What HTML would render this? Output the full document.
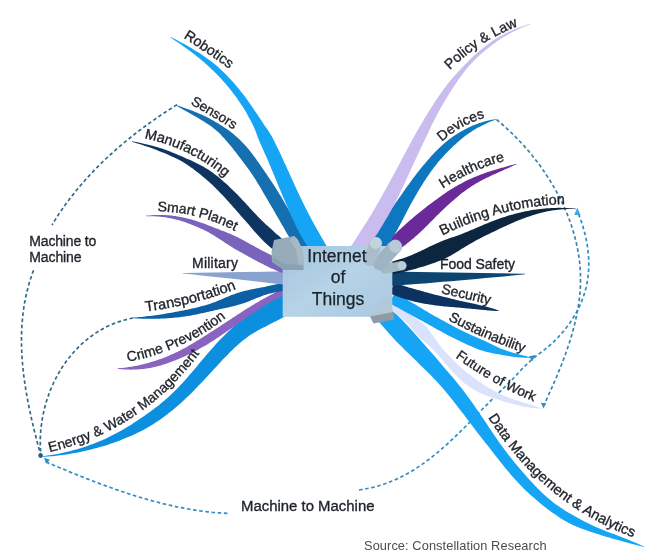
<!DOCTYPE html>
<html><head><meta charset="utf-8">
<style>
html,body{margin:0;padding:0;background:#fff;}
body{width:653px;height:558px;overflow:hidden;font-family:"Liberation Sans",sans-serif;}
svg{display:block;}
text{font-family:"Liberation Sans",sans-serif;}
.lb{font-size:14px;fill:#1f232b;stroke:#1f232b;stroke-width:0.35;}
.dash{fill:none;stroke:#2f8fc4;stroke-width:1.7;stroke-dasharray:3.6 2.6;}
.dasha{fill:none;stroke:#3a84ad;stroke-width:1.7;stroke-dasharray:3.6 2.6;}
.dashd{fill:none;stroke:#336a87;stroke-width:1.7;stroke-dasharray:3.6 2.6;}
</style></head>
<body>
<svg width="653" height="558" viewBox="0 0 653 558">
<defs>
<linearGradient id="boxg" x1="0" y1="0" x2="1" y2="1">
<stop offset="0" stop-color="#a3c3db"/><stop offset="0.5" stop-color="#b6d3e7"/><stop offset="1" stop-color="#a9c8df"/>
</linearGradient>
<filter id="soft" x="-5%" y="-5%" width="110%" height="110%"><feGaussianBlur stdDeviation="0.7"/></filter>
<path id="lp_robotics" d="M178.1,34.6 L183.2,37.8 Q206.7,52.7 229.4,68.8 L239.2,75.7"/>
<path id="lp_sensors" d="M185.1,101.0 L190.3,104.0 Q211.9,116.2 233.5,129.5 L243.7,135.8"/>
<path id="lp_manuf" d="M138.4,137.1 L144.3,138.3 Q188.4,147.0 225.2,177.3 L234.5,184.9"/>
<path id="lp_smart" d="M151.4,211.3 L157.4,211.4 Q198.2,211.8 234.9,231.0 L245.5,236.6"/>
<path id="lp_transp" d="M139.8,312.2 L145.8,311.5 Q191.7,305.8 236.5,288.9 L247.7,284.7"/>
<path id="lp_crime" d="M121.8,362.9 L127.7,361.8 Q182.1,351.8 226.1,317.9 L235.6,310.6"/>
<path id="lp_energy" d="M43.7,453.3 L49.5,452.0 Q141.9,430.8 199.5,353.6 L206.7,344.0"/>
<path id="lp_policy" d="M445.5,74.2 L449.8,70.0 Q479.1,41.1 517.9,26.2 L529.1,21.9"/>
<path id="lp_devices" d="M437.4,145.8 L441.9,141.8 Q460.8,124.8 485.0,117.7 L496.5,114.3"/>
<path id="lp_health" d="M437.8,191.8 L442.8,188.5 Q471.8,169.3 504.8,160.9 L516.4,157.9"/>
<path id="lp_building" d="M437.0,238.2 L442.4,235.5 Q500.1,206.5 565.0,203.9 L577.0,203.4"/>
<path id="lp_security" d="M434.9,291.6 L440.7,293.0 Q465.3,299.0 489.9,304.5 L501.6,307.1"/>
<path id="lp_sustain" d="M442.6,317.1 L447.9,319.9 Q484.5,339.4 523.5,352.5 L534.9,356.3"/>
<path id="lp_future" d="M450.4,353.6 L455.2,357.1 Q493.0,384.7 533.5,401.5 L544.6,406.1"/>
<path id="lp_data" d="M484.8,412.3 L488.0,417.4 Q541.8,503.1 633.2,537.3 L644.4,541.5"/>
</defs>
<rect width="653" height="558" fill="#fff"/>
<g filter="url(#soft)">
<!-- dashed connectors -->
<path class="dashd" d="M177.0,104.7 L175.1,105.9 L173.3,107.0 L171.5,108.2 L169.6,109.4 L167.8,110.6 L166.0,111.8 L164.1,113.0 L162.3,114.2 L160.5,115.4 L158.7,116.7 L156.9,117.9 L155.1,119.1 L153.3,120.4 L151.5,121.7 L149.7,122.9 L147.9,124.2 L146.2,125.5 L144.4,126.8 L142.6,128.1 L140.9,129.4 L139.1,130.7 L137.4,132.1 L135.6,133.4 L133.9,134.7 L132.2,136.1 L130.5,137.5 L128.8,138.8 L127.1,140.2 L125.4,141.6 L123.7,143.0 L122.0,144.4 L120.3,145.8 L118.7,147.3 L117.0,148.7 L115.4,150.1 L113.7,151.6 L112.1,153.1 L110.5,154.5 L108.9,156.0 L107.3,157.5 L105.7,159.0 L104.1,160.5 L102.5,162.0 L100.9,163.5 L99.4,165.1 L97.8,166.6 L96.3,168.2 L94.8,169.7 L93.3,171.3 L91.8,172.9 L90.3,174.5 L88.8,176.1 L87.3,177.7 L85.8,179.3 L84.4,181.0 L82.9,182.6 L81.5,184.3 L80.1,185.9 L78.7,187.6 L77.3,189.3 L75.9,191.0 L74.5,192.7 L73.2,194.4 L71.8,196.1 L70.5,197.8 L69.2,199.6 L67.8,201.3 L66.5,203.1 L65.3,204.8 L64.0,206.6 L62.7,208.4 L61.5,210.2 L60.2,212.0 L59.0,213.8 L57.8,215.7 L56.6,217.5 L55.5,219.4 L54.3,221.2 L53.1,223.1 L52.0,225.0"/>
<path class="dashd" d="M33.6,270.3 L32.7,272.5 L31.9,274.8 L31.2,277.0 L30.4,279.3 L29.7,281.6 L29.0,283.8 L28.4,286.1 L27.8,288.4 L27.2,290.7 L26.6,293.0 L26.1,295.3 L25.6,297.6 L25.2,299.9 L24.7,302.2 L24.3,304.5 L23.9,306.8 L23.6,309.1 L23.3,311.5 L23.0,313.8 L22.7,316.1 L22.5,318.5 L22.3,320.8 L22.1,323.2 L21.9,325.5 L21.8,327.8 L21.7,330.2 L21.6,332.5 L21.5,334.9 L21.5,337.3 L21.5,339.6 L21.5,342.0 L21.5,344.3 L21.6,346.7 L21.6,349.1 L21.7,351.4 L21.8,353.8 L22.0,356.2 L22.1,358.5 L22.3,360.9 L22.5,363.3 L22.7,365.6 L22.9,368.0 L23.2,370.4 L23.4,372.7 L23.7,375.1 L24.0,377.4 L24.3,379.8 L24.7,382.2 L25.0,384.5 L25.4,386.9 L25.7,389.2 L26.1,391.6 L26.5,393.9 L26.9,396.3 L27.4,398.6 L27.8,401.0 L28.2,403.3 L28.7,405.7 L29.2,408.0 L29.7,410.3 L30.2,412.7 L30.7,415.0 L31.2,417.3 L31.7,419.6 L32.2,421.9 L32.8,424.2 L33.3,426.5 L33.9,428.8 L34.4,431.1 L35.0,433.4 L35.6,435.7 L36.2,438.0 L36.8,440.3 L37.3,442.5 L37.9,444.8 L38.5,447.0 L39.2,449.3 L39.8,451.5 L40.4,453.8 L41.0,456.0"/>
<path class="dashd" d="M133.0,318.0 L130.7,318.5 L128.3,319.0 L126.1,319.6 L123.8,320.2 L121.6,320.9 L119.3,321.6 L117.2,322.3 L115.0,323.1 L112.9,324.0 L110.8,324.9 L108.7,325.8 L106.6,326.8 L104.6,327.8 L102.6,328.9 L100.7,330.0 L98.7,331.2 L96.8,332.4 L94.9,333.6 L93.1,334.9 L91.3,336.2 L89.5,337.5 L87.7,338.9 L86.0,340.3 L84.3,341.8 L82.6,343.2 L80.9,344.7 L79.3,346.3 L77.7,347.9 L76.2,349.5 L74.7,351.1 L73.2,352.8 L71.7,354.5 L70.3,356.2 L68.9,358.0 L67.5,359.8 L66.1,361.6 L64.8,363.4 L63.6,365.3 L62.3,367.1 L61.1,369.0 L59.9,371.0 L58.8,372.9 L57.7,374.9 L56.6,376.9 L55.5,378.9 L54.5,380.9 L53.5,383.0 L52.6,385.0 L51.7,387.1 L50.8,389.2 L49.9,391.3 L49.1,393.4 L48.4,395.6 L47.6,397.7 L46.9,399.9 L46.2,402.1 L45.6,404.3 L45.0,406.5 L44.4,408.7 L43.9,410.9 L43.4,413.1 L42.9,415.3 L42.5,417.6 L42.1,419.8 L41.8,422.1 L41.5,424.3 L41.2,426.6 L40.9,428.9 L40.7,431.1 L40.6,433.4 L40.4,435.7 L40.3,437.9 L40.3,440.2 L40.3,442.5 L40.3,444.7 L40.4,447.0 L40.5,449.3 L40.6,451.5 L40.8,453.8 L41.0,456.0"/>
<path class="dash" d="M46.0,462.0 L48.2,462.9 L50.4,463.8 L52.6,464.8 L54.8,465.7 L57.0,466.6 L59.2,467.5 L61.4,468.4 L63.6,469.3 L65.8,470.2 L68.0,471.2 L70.2,472.1 L72.4,473.0 L74.7,473.9 L76.9,474.7 L79.1,475.6 L81.3,476.5 L83.5,477.4 L85.8,478.3 L88.0,479.1 L90.2,480.0 L92.5,480.9 L94.7,481.7 L96.9,482.6 L99.2,483.4 L101.4,484.3 L103.7,485.1 L105.9,485.9 L108.2,486.7 L110.4,487.5 L112.7,488.3 L114.9,489.1 L117.2,489.9 L119.4,490.7 L121.7,491.5 L124.0,492.2 L126.2,493.0 L128.5,493.7 L130.8,494.5 L133.0,495.2 L135.3,495.9 L137.6,496.6 L139.9,497.3 L142.2,498.0 L144.5,498.6 L146.8,499.3 L149.1,500.0 L151.4,500.6 L153.7,501.2 L156.0,501.8 L158.3,502.4 L160.6,503.0 L162.9,503.6 L165.2,504.2 L167.5,504.7 L169.8,505.2 L172.2,505.8 L174.5,506.3 L176.8,506.8 L179.2,507.2 L181.5,507.7 L183.9,508.2 L186.2,508.6 L188.5,509.0 L190.9,509.4 L193.3,509.8 L195.6,510.2 L198.0,510.5 L200.3,510.9 L202.7,511.2 L205.1,511.5 L207.5,511.8 L209.8,512.0 L212.2,512.3 L214.6,512.5 L217.0,512.7 L219.4,512.9 L221.8,513.1 L224.2,513.2 L226.6,513.4 L229.0,513.5"/>
<path class="dash" d="M359.0,490.0 L364.1,489.2 L369.1,488.2 L374.0,487.1 L378.8,485.8 L383.5,484.3 L388.1,482.6 L392.6,480.8 L397.1,478.9 L401.4,476.8 L405.7,474.5 L409.9,472.2 L414.0,469.7 L418.0,467.1 L422.0,464.4 L425.9,461.6 L429.8,458.7 L433.6,455.7 L437.4,452.6 L441.1,449.5 L444.7,446.3 L448.4,443.0 L451.9,439.7 L455.5,436.3 L459.0,432.9 L462.5,429.4 L466.0,426.0 L469.5,422.5 L472.9,419.0 L476.4,415.4 L479.8,411.9 L483.2,408.4 L486.7,404.9 L490.1,401.4 L493.5,398.0 L497.0,394.5 L500.5,391.1 L503.9,387.8 L507.4,384.4 L510.8,381.0 L514.2,377.5 L517.5,373.9 L520.8,370.3 L524.1,366.8 L527.6,363.4 L531.1,360.1 L534.9,357.0 L538.7,354.1 L542.6,351.2 L546.4,348.2 L550.2,345.0 L553.8,341.7 L557.2,338.2 L560.6,334.7 L563.8,330.9 L566.8,327.1 L569.7,323.2 L572.4,319.1 L575.0,314.9 L577.3,310.7 L579.5,306.3 L581.4,301.8 L583.2,297.3 L584.7,292.7 L586.0,288.0 L587.0,283.3 L587.8,278.5 L588.4,273.7 L588.7,268.8 L588.8,263.9 L588.7,258.9 L588.3,254.0 L587.8,249.1 L587.1,244.2 L586.2,239.3 L585.1,234.5 L583.8,229.7 L582.5,225.0 L580.9,220.4 L579.3,215.9 L577.5,211.5"/>
<path class="dasha" d="M496.5,119.5 L499.5,122.0 L502.4,124.5 L505.4,127.1 L508.2,129.8 L511.1,132.5 L513.9,135.3 L516.7,138.1 L519.5,141.0 L522.2,143.9 L524.9,146.9 L527.5,149.9 L530.1,152.9 L532.6,156.1 L535.1,159.2 L537.6,162.4 L540.0,165.6 L542.3,168.9 L544.6,172.2 L546.8,175.6 L549.0,179.0 L551.1,182.4 L553.2,185.9 L555.2,189.3 L557.1,192.9 L559.0,196.4 L560.8,200.0 L562.6,203.6 L564.2,207.2 L565.8,210.9 L567.4,214.6 L568.8,218.3 L570.2,222.0 L571.5,225.8 L572.7,229.6 L573.8,233.4 L574.9,237.2 L575.8,241.0 L576.7,244.8 L577.5,248.7 L578.2,252.6 L578.8,256.4 L579.4,260.3 L579.8,264.2 L580.1,268.1 L580.4,272.1 L580.5,276.0 L580.5,279.9 L580.5,283.8 L580.3,287.7 L580.1,291.7 L579.7,295.6 L579.3,299.5 L578.7,303.5 L578.1,307.4 L577.4,311.3 L576.7,315.2 L575.8,319.1 L574.9,323.0 L574.0,326.9 L572.9,330.8 L571.8,334.7 L570.7,338.5 L569.5,342.4 L568.2,346.2 L566.9,350.0 L565.6,353.8 L564.2,357.6 L562.8,361.4 L561.3,365.2 L559.8,368.9 L558.3,372.6 L556.8,376.3 L555.2,380.0 L553.6,383.6 L552.0,387.3 L550.4,390.9 L548.8,394.4 L547.2,398.0 L545.6,401.5 L544.0,405.0"/>
<path d="M286.3,293.9 L283.0,295.1 L279.6,296.3 L276.3,297.6 L273.1,299.0 L269.9,300.5 L266.7,302.1 L263.6,303.7 L260.5,305.5 L257.5,307.3 L254.6,309.3 L251.8,311.4 L249.0,313.5 L246.2,315.7 L243.5,317.9 L240.9,320.2 L238.3,322.5 L235.6,324.8 L233.0,327.1 L230.5,329.5 L228.0,331.8 L225.5,334.2 L223.1,336.7 L220.7,339.1 L218.3,341.6 L216.0,344.1 L213.7,346.7 L211.4,349.2 L209.2,351.7 L207.0,354.3 L204.8,356.9 L202.6,359.5 L200.5,362.0 L198.3,364.6 L196.2,367.2 L194.0,369.7 L191.9,372.3 L189.7,374.8 L187.6,377.3 L185.4,379.8 L183.2,382.2 L181.0,384.6 L178.8,387.0 L176.5,389.3 L174.2,391.6 L171.9,393.8 L169.5,396.0 L167.1,398.2 L164.7,400.3 L162.2,402.3 L159.7,404.4 L157.2,406.4 L154.7,408.3 L152.1,410.3 L149.5,412.2 L146.8,414.0 L144.2,415.9 L141.5,417.7 L138.9,419.5 L136.2,421.3 L133.5,423.1 L130.8,424.9 L128.0,426.6 L125.2,428.3 L122.4,430.0 L119.6,431.5 L116.7,433.1 L113.8,434.6 L110.9,436.1 L107.9,437.5 L105.0,438.9 L102.0,440.2 L99.0,441.5 L95.9,442.8 L92.8,444.0 L89.7,445.1 L86.6,446.2 L83.5,447.2 L80.3,448.2 L77.1,449.2 L73.9,450.1 L70.7,450.9 L67.5,451.8 L64.2,452.5 L60.9,453.2 L57.6,453.9 L54.3,454.5 L51.0,455.0 L47.7,455.5 L44.3,456.0 L41.0,456.4 L41.0,456.8 L44.4,456.7 L47.8,456.4 L51.2,456.2 L54.5,455.9 L57.9,455.5 L61.2,455.1 L64.6,454.7 L67.9,454.2 L71.3,453.6 L74.6,453.1 L77.9,452.4 L81.2,451.8 L84.5,451.1 L87.8,450.3 L91.1,449.5 L94.3,448.6 L97.6,447.8 L100.8,446.8 L104.1,445.9 L107.3,444.9 L110.5,443.8 L113.7,442.7 L116.9,441.6 L120.0,440.4 L123.2,439.1 L126.3,437.8 L129.4,436.5 L132.5,435.2 L135.6,433.7 L138.7,432.3 L141.7,430.8 L144.7,429.2 L147.7,427.5 L150.6,425.8 L153.5,424.0 L156.4,422.1 L159.2,420.2 L162.0,418.3 L164.7,416.2 L167.4,414.2 L170.1,412.1 L172.8,409.9 L175.4,407.7 L178.0,405.5 L180.6,403.3 L183.1,401.0 L185.6,398.6 L188.1,396.3 L190.5,393.9 L193.0,391.5 L195.3,389.0 L197.7,386.6 L200.1,384.1 L202.4,381.7 L204.7,379.2 L207.0,376.7 L209.3,374.2 L211.6,371.8 L213.8,369.3 L216.1,366.9 L218.3,364.4 L220.6,362.0 L222.8,359.6 L225.1,357.3 L227.4,354.9 L229.7,352.6 L232.0,350.3 L234.3,348.1 L236.6,346.0 L239.0,343.8 L241.4,341.8 L243.8,339.8 L246.3,337.9 L248.8,336.0 L251.5,334.3 L254.1,332.7 L256.9,331.1 L259.6,329.6 L262.4,328.1 L265.2,326.7 L268.0,325.2 L270.8,323.8 L273.6,322.3 L276.4,320.9 L279.2,319.4 L282.1,317.9 L284.9,316.4 L287.8,315.0 L290.7,313.5 L293.7,312.1Z" fill="#108fe0"/>
<path d="M286.7,286.9 L284.8,287.8 L282.8,288.7 L280.9,289.6 L279.0,290.5 L277.1,291.5 L275.2,292.4 L273.4,293.4 L271.5,294.4 L269.6,295.4 L267.8,296.4 L265.9,297.5 L264.1,298.5 L262.2,299.5 L260.4,300.6 L258.5,301.7 L256.7,302.8 L254.8,303.8 L253.0,304.9 L251.2,306.0 L249.4,307.2 L247.5,308.3 L245.7,309.4 L243.9,310.6 L242.1,311.7 L240.3,312.9 L238.5,314.0 L236.7,315.2 L234.9,316.4 L233.1,317.5 L231.4,318.7 L229.6,319.9 L227.8,321.1 L226.0,322.2 L224.2,323.4 L222.4,324.6 L220.7,325.7 L218.9,326.9 L217.1,328.0 L215.3,329.2 L213.5,330.4 L211.7,331.5 L210.0,332.6 L208.2,333.8 L206.4,334.9 L204.6,336.0 L202.9,337.2 L201.1,338.3 L199.3,339.4 L197.5,340.5 L195.8,341.6 L194.0,342.7 L192.2,343.7 L190.4,344.8 L188.6,345.8 L186.8,346.9 L185.0,347.9 L183.2,348.8 L181.4,349.8 L179.5,350.8 L177.7,351.7 L175.8,352.6 L174.0,353.5 L172.1,354.3 L170.2,355.1 L168.4,355.9 L166.5,356.7 L164.6,357.5 L162.7,358.2 L160.8,358.9 L158.8,359.6 L156.9,360.3 L154.9,360.9 L153.0,361.5 L151.0,362.1 L149.0,362.7 L147.0,363.3 L145.0,363.8 L143.0,364.3 L141.0,364.8 L138.9,365.2 L136.9,365.7 L134.8,366.1 L132.7,366.5 L130.6,366.8 L128.5,367.1 L126.3,367.4 L124.2,367.7 L122.0,367.9 L119.7,368.1 L117.5,368.3 L117.5,368.7 L119.7,369.0 L122.0,369.2 L124.2,369.4 L126.4,369.5 L128.6,369.6 L130.8,369.7 L133.0,369.6 L135.2,369.6 L137.4,369.5 L139.6,369.3 L141.7,369.1 L143.9,368.9 L146.0,368.6 L148.1,368.3 L150.2,367.9 L152.4,367.5 L154.4,367.0 L156.5,366.5 L158.6,366.0 L160.7,365.4 L162.7,364.8 L164.7,364.2 L166.8,363.5 L168.8,362.8 L170.8,362.1 L172.8,361.3 L174.8,360.6 L176.7,359.8 L178.7,358.9 L180.7,358.1 L182.6,357.2 L184.6,356.4 L186.5,355.5 L188.4,354.5 L190.4,353.6 L192.3,352.6 L194.2,351.7 L196.1,350.7 L198.0,349.7 L199.9,348.6 L201.7,347.6 L203.6,346.5 L205.5,345.5 L207.3,344.4 L209.1,343.2 L211.0,342.1 L212.8,340.9 L214.6,339.8 L216.4,338.6 L218.2,337.4 L219.9,336.2 L221.7,335.0 L223.5,333.8 L225.3,332.6 L227.0,331.3 L228.8,330.1 L230.5,328.9 L232.3,327.6 L234.0,326.4 L235.8,325.2 L237.5,323.9 L239.2,322.7 L241.0,321.5 L242.7,320.3 L244.5,319.1 L246.2,317.8 L247.9,316.6 L249.7,315.4 L251.4,314.2 L253.2,313.1 L254.9,311.9 L256.7,310.7 L258.4,309.6 L260.2,308.4 L261.9,307.3 L263.7,306.2 L265.5,305.1 L267.3,304.0 L269.0,303.0 L270.8,301.9 L272.6,300.9 L274.5,300.0 L276.3,299.0 L278.1,298.1 L280.0,297.2 L281.8,296.3 L283.7,295.5 L285.5,294.6 L287.4,293.9 L289.3,293.1Z" fill="#8a62c0"/>
<path d="M287.6,282.7 L285.8,282.9 L284.0,283.1 L282.2,283.4 L280.4,283.7 L278.6,284.0 L276.8,284.3 L275.0,284.6 L273.3,285.0 L271.5,285.3 L269.8,285.7 L268.0,286.1 L266.3,286.5 L264.5,286.9 L262.7,287.2 L261.0,287.5 L259.2,287.9 L257.4,288.2 L255.7,288.5 L253.9,288.9 L252.1,289.2 L250.4,289.6 L248.6,290.0 L246.9,290.4 L245.1,290.8 L243.4,291.2 L241.7,291.7 L239.9,292.2 L238.3,292.7 L236.6,293.3 L234.9,293.9 L233.2,294.5 L231.6,295.1 L229.9,295.8 L228.3,296.5 L226.7,297.1 L225.0,297.8 L223.4,298.5 L221.8,299.2 L220.2,299.9 L218.5,300.6 L216.9,301.2 L215.3,301.9 L213.6,302.5 L212.0,303.1 L210.3,303.7 L208.7,304.2 L207.0,304.7 L205.3,305.2 L203.7,305.7 L202.0,306.1 L200.3,306.6 L198.6,307.0 L196.9,307.4 L195.2,307.9 L193.5,308.2 L191.8,308.6 L190.1,309.0 L188.4,309.4 L186.7,309.7 L185.0,310.1 L183.3,310.4 L181.5,310.8 L179.8,311.1 L178.1,311.4 L176.4,311.8 L174.7,312.1 L172.9,312.4 L171.2,312.7 L169.5,313.0 L167.8,313.3 L166.0,313.6 L164.3,313.9 L162.5,314.2 L160.8,314.5 L159.0,314.7 L157.3,315.0 L155.5,315.2 L153.8,315.5 L152.0,315.7 L150.3,315.9 L148.5,316.1 L146.7,316.3 L145.0,316.5 L143.2,316.7 L141.4,316.9 L139.6,317.1 L137.9,317.3 L136.1,317.4 L134.3,317.6 L132.5,317.8 L132.5,318.2 L134.3,318.3 L136.1,318.4 L137.9,318.5 L139.7,318.6 L141.5,318.7 L143.3,318.7 L145.1,318.8 L146.9,318.8 L148.7,318.8 L150.4,318.8 L152.2,318.8 L154.0,318.8 L155.8,318.8 L157.6,318.7 L159.4,318.7 L161.2,318.6 L163.0,318.5 L164.8,318.4 L166.5,318.3 L168.3,318.2 L170.1,318.1 L171.9,318.0 L173.7,317.8 L175.5,317.6 L177.2,317.4 L179.0,317.2 L180.8,317.0 L182.6,316.8 L184.3,316.5 L186.1,316.3 L187.8,316.0 L189.6,315.7 L191.4,315.4 L193.1,315.0 L194.9,314.7 L196.6,314.4 L198.4,314.0 L200.1,313.6 L201.9,313.3 L203.6,312.9 L205.4,312.5 L207.1,312.1 L208.9,311.7 L210.6,311.3 L212.3,310.9 L214.1,310.5 L215.8,310.1 L217.6,309.7 L219.4,309.3 L221.1,309.0 L222.9,308.6 L224.6,308.2 L226.4,307.8 L228.1,307.4 L229.9,307.1 L231.6,306.6 L233.3,306.2 L235.1,305.8 L236.8,305.3 L238.5,304.8 L240.2,304.3 L241.9,303.8 L243.5,303.3 L245.2,302.7 L246.8,302.0 L248.5,301.4 L250.1,300.8 L251.7,300.1 L253.4,299.5 L255.0,298.8 L256.6,298.1 L258.2,297.5 L259.9,296.9 L261.5,296.2 L263.1,295.6 L264.8,295.1 L266.4,294.6 L268.1,294.1 L269.8,293.6 L271.5,293.2 L273.1,292.8 L274.8,292.5 L276.5,292.1 L278.2,291.8 L279.9,291.5 L281.6,291.2 L283.3,291.0 L285.0,290.7 L286.7,290.5 L288.4,290.3Z" fill="#0760a6"/>
<path d="M182.7,273 L290,271.3 L290,285 C260,282 225,278 182.7,273.6Z" fill="#8aa2d0"/>
<path d="M290.0,263.6 L288.5,263.0 L287.0,262.4 L285.5,261.8 L284.0,261.1 L282.5,260.5 L281.0,259.8 L279.5,259.1 L278.0,258.4 L276.5,257.7 L275.0,257.0 L273.5,256.3 L272.0,255.5 L270.5,254.8 L269.0,254.0 L267.5,253.3 L266.0,252.5 L264.5,251.7 L263.0,251.0 L261.5,250.2 L260.0,249.4 L258.5,248.6 L257.0,247.8 L255.5,246.9 L254.0,246.1 L252.5,245.3 L251.0,244.5 L249.5,243.7 L248.0,242.8 L246.5,242.0 L245.0,241.2 L243.5,240.3 L242.0,239.5 L240.5,238.7 L238.9,237.9 L237.4,237.1 L235.8,236.4 L234.2,235.7 L232.7,235.0 L231.1,234.3 L229.5,233.6 L227.9,232.9 L226.2,232.3 L224.6,231.6 L223.0,231.0 L221.4,230.4 L219.8,229.7 L218.2,229.1 L216.6,228.5 L214.9,227.9 L213.3,227.2 L211.7,226.6 L210.1,226.0 L208.5,225.4 L206.9,224.7 L205.3,224.1 L203.7,223.5 L202.1,223.0 L200.5,222.4 L198.8,221.9 L197.2,221.3 L195.6,220.8 L194.0,220.3 L192.3,219.8 L190.7,219.3 L189.0,218.9 L187.4,218.5 L185.7,218.1 L184.0,217.7 L182.4,217.3 L180.7,217.0 L179.0,216.7 L177.3,216.4 L175.6,216.1 L173.9,215.9 L172.2,215.6 L170.5,215.5 L168.8,215.3 L167.1,215.2 L165.4,215.0 L163.6,215.0 L161.9,214.9 L160.2,214.9 L158.4,214.9 L156.7,214.9 L154.9,215.0 L153.1,215.1 L151.3,215.2 L149.6,215.4 L147.8,215.5 L146.0,215.8 L146.0,216.2 L147.8,216.2 L149.6,216.2 L151.4,216.2 L153.1,216.2 L154.9,216.3 L156.6,216.4 L158.3,216.5 L160.1,216.7 L161.8,216.9 L163.5,217.1 L165.1,217.3 L166.8,217.6 L168.5,217.9 L170.1,218.2 L171.8,218.5 L173.4,218.9 L175.0,219.3 L176.6,219.7 L178.2,220.1 L179.8,220.6 L181.4,221.1 L183.0,221.6 L184.6,222.1 L186.1,222.6 L187.7,223.2 L189.3,223.7 L190.8,224.3 L192.3,224.9 L193.9,225.5 L195.4,226.2 L196.9,226.8 L198.5,227.5 L200.0,228.2 L201.5,228.9 L203.0,229.6 L204.5,230.3 L206.0,231.1 L207.5,231.8 L208.9,232.6 L210.4,233.4 L211.9,234.3 L213.3,235.1 L214.8,236.0 L216.2,236.9 L217.6,237.8 L219.0,238.7 L220.5,239.7 L221.9,240.6 L223.3,241.5 L224.7,242.5 L226.1,243.4 L227.6,244.3 L229.0,245.3 L230.4,246.2 L231.9,247.1 L233.3,248.0 L234.8,248.9 L236.3,249.8 L237.8,250.6 L239.3,251.4 L240.8,252.3 L242.3,253.1 L243.8,254.0 L245.3,254.8 L246.8,255.6 L248.3,256.5 L249.9,257.3 L251.4,258.1 L252.9,259.0 L254.4,259.8 L255.9,260.6 L257.5,261.4 L259.0,262.2 L260.6,263.0 L262.1,263.8 L263.7,264.6 L265.2,265.4 L266.8,266.1 L268.3,266.9 L269.9,267.7 L271.5,268.4 L273.1,269.1 L274.7,269.8 L276.2,270.5 L277.9,271.2 L279.5,271.9 L281.1,272.5 L282.7,273.2 L284.3,273.8 L286.0,274.4Z" fill="#7a63bd"/>
<path d="M292.0,246.0 L290.3,244.9 L288.7,243.7 L287.0,242.5 L285.4,241.3 L283.8,240.0 L282.1,238.7 L280.6,237.4 L279.0,236.1 L277.4,234.7 L275.8,233.4 L274.3,232.0 L272.7,230.6 L271.2,229.1 L269.6,227.7 L268.1,226.3 L266.5,224.9 L264.9,223.4 L263.4,221.9 L261.8,220.4 L260.3,218.9 L258.8,217.4 L257.3,215.9 L255.8,214.3 L254.3,212.8 L252.8,211.2 L251.3,209.6 L249.8,208.0 L248.4,206.3 L246.9,204.7 L245.4,203.1 L243.9,201.5 L242.4,199.9 L240.9,198.3 L239.4,196.7 L237.9,195.1 L236.3,193.6 L234.8,192.0 L233.2,190.4 L231.6,188.9 L230.0,187.4 L228.4,185.8 L226.8,184.3 L225.2,182.9 L223.5,181.4 L221.9,180.0 L220.2,178.5 L218.5,177.1 L216.7,175.7 L215.0,174.4 L213.2,173.1 L211.4,171.8 L209.6,170.5 L207.8,169.3 L205.9,168.2 L204.0,167.0 L202.1,166.0 L200.1,164.9 L198.2,163.9 L196.2,162.9 L194.2,162.0 L192.2,161.0 L190.2,160.1 L188.2,159.2 L186.2,158.4 L184.2,157.5 L182.2,156.6 L180.2,155.7 L178.2,154.9 L176.2,154.0 L174.2,153.2 L172.2,152.4 L170.1,151.6 L168.1,150.8 L166.0,150.1 L163.9,149.3 L161.9,148.6 L159.8,148.0 L157.7,147.3 L155.6,146.7 L153.4,146.1 L151.3,145.5 L149.2,145.0 L147.1,144.4 L144.9,143.9 L142.8,143.4 L140.7,143.0 L138.5,142.5 L136.4,142.1 L134.2,141.7 L132.1,141.3 L131.9,141.7 L134.0,142.4 L136.1,143.0 L138.2,143.7 L140.3,144.3 L142.4,145.0 L144.4,145.7 L146.5,146.4 L148.6,147.1 L150.6,147.8 L152.7,148.6 L154.7,149.3 L156.7,150.1 L158.7,150.9 L160.8,151.7 L162.8,152.5 L164.8,153.3 L166.7,154.1 L168.7,155.0 L170.7,155.9 L172.6,156.7 L174.6,157.7 L176.5,158.6 L178.4,159.6 L180.3,160.6 L182.1,161.6 L184.0,162.7 L185.8,163.8 L187.6,165.0 L189.3,166.2 L191.1,167.4 L192.8,168.6 L194.5,169.9 L196.1,171.2 L197.8,172.5 L199.4,173.8 L201.0,175.1 L202.6,176.4 L204.2,177.7 L205.8,179.1 L207.4,180.4 L208.9,181.8 L210.5,183.2 L212.0,184.6 L213.5,186.0 L215.0,187.5 L216.5,189.0 L218.0,190.4 L219.4,191.9 L220.9,193.5 L222.4,195.0 L223.8,196.6 L225.2,198.1 L226.7,199.7 L228.1,201.3 L229.6,202.9 L231.0,204.5 L232.4,206.1 L233.8,207.7 L235.3,209.3 L236.7,211.0 L238.1,212.6 L239.6,214.2 L241.0,215.9 L242.5,217.5 L243.9,219.2 L245.4,220.8 L246.8,222.5 L248.3,224.1 L249.7,225.8 L251.1,227.5 L252.6,229.2 L254.0,230.9 L255.5,232.5 L257.0,234.2 L258.5,235.8 L260.0,237.5 L261.5,239.1 L263.1,240.7 L264.7,242.3 L266.3,243.8 L268.0,245.3 L269.7,246.8 L271.4,248.3 L273.1,249.8 L274.8,251.2 L276.6,252.6 L278.4,254.0 L280.2,255.4 L282.1,256.7 L284.0,258.0Z" fill="#0a3560"/>
<path d="M311.5,248.5 L310.3,246.7 L309.2,244.8 L308.0,242.9 L306.9,241.0 L305.8,239.1 L304.6,237.2 L303.5,235.3 L302.4,233.4 L301.3,231.5 L300.1,229.6 L299.0,227.7 L297.9,225.7 L296.8,223.8 L295.7,221.9 L294.5,220.0 L293.4,218.0 L292.3,216.1 L291.2,214.1 L290.1,212.2 L288.9,210.3 L287.8,208.3 L286.7,206.4 L285.6,204.4 L284.4,202.5 L283.3,200.5 L282.1,198.6 L281.0,196.6 L279.8,194.7 L278.7,192.8 L277.5,190.9 L276.3,188.9 L275.1,187.0 L273.8,185.1 L272.6,183.2 L271.3,181.3 L270.1,179.4 L268.8,177.6 L267.6,175.7 L266.3,173.8 L265.0,171.9 L263.7,170.0 L262.4,168.2 L261.1,166.3 L259.9,164.4 L258.5,162.6 L257.2,160.7 L255.9,158.8 L254.6,157.0 L253.2,155.2 L251.8,153.3 L250.4,151.5 L249.0,149.7 L247.5,148.0 L246.0,146.2 L244.4,144.5 L242.9,142.9 L241.2,141.2 L239.6,139.6 L237.9,138.0 L236.2,136.4 L234.5,134.9 L232.7,133.4 L230.9,132.0 L229.0,130.6 L227.1,129.3 L225.2,128.0 L223.3,126.7 L221.4,125.5 L219.4,124.3 L217.5,123.1 L215.5,121.9 L213.6,120.8 L211.6,119.7 L209.6,118.6 L207.6,117.5 L205.6,116.5 L203.5,115.5 L201.5,114.6 L199.4,113.7 L197.3,112.8 L195.2,112.0 L193.1,111.1 L191.0,110.3 L188.9,109.5 L186.8,108.8 L184.6,108.0 L182.5,107.3 L180.4,106.5 L178.2,105.8 L176.1,105.1 L175.9,105.5 L177.9,106.6 L179.8,107.7 L181.8,108.8 L183.8,109.9 L185.7,111.0 L187.7,112.1 L189.7,113.2 L191.6,114.3 L193.6,115.4 L195.5,116.5 L197.4,117.6 L199.3,118.7 L201.2,119.9 L203.1,121.0 L204.9,122.2 L206.8,123.4 L208.6,124.6 L210.4,125.8 L212.1,127.1 L213.8,128.4 L215.5,129.7 L217.1,131.2 L218.7,132.6 L220.2,134.1 L221.7,135.7 L223.1,137.2 L224.6,138.8 L226.0,140.4 L227.4,142.0 L228.8,143.7 L230.2,145.3 L231.6,147.0 L232.9,148.6 L234.2,150.4 L235.6,152.1 L236.9,153.8 L238.2,155.5 L239.5,157.3 L240.9,159.0 L242.2,160.7 L243.5,162.5 L244.8,164.2 L246.1,166.0 L247.4,167.7 L248.7,169.5 L250.0,171.3 L251.2,173.1 L252.5,174.9 L253.7,176.8 L254.9,178.6 L256.1,180.5 L257.2,182.4 L258.4,184.2 L259.5,186.1 L260.7,188.0 L261.8,189.9 L262.9,191.9 L264.0,193.8 L265.1,195.7 L266.2,197.6 L267.4,199.5 L268.5,201.5 L269.6,203.4 L270.7,205.3 L271.9,207.2 L273.0,209.1 L274.1,211.1 L275.2,213.0 L276.3,214.9 L277.5,216.9 L278.6,218.8 L279.7,220.8 L280.8,222.7 L281.9,224.7 L283.1,226.6 L284.2,228.5 L285.3,230.5 L286.4,232.4 L287.6,234.4 L288.7,236.3 L289.9,238.2 L291.0,240.2 L292.2,242.1 L293.3,244.0 L294.5,245.9 L295.7,247.9 L296.9,249.8 L298.1,251.7 L299.3,253.6 L300.5,255.5Z" fill="#1570b0"/>
<path d="M327.5,247.5 L326.0,245.1 L324.5,242.6 L323.1,240.1 L321.6,237.6 L320.2,235.1 L318.8,232.6 L317.4,230.1 L316.0,227.6 L314.6,225.0 L313.2,222.5 L311.8,219.9 L310.5,217.3 L309.1,214.8 L307.8,212.2 L306.4,209.6 L305.1,207.0 L303.8,204.3 L302.5,201.7 L301.2,199.1 L299.9,196.4 L298.7,193.7 L297.4,191.0 L296.2,188.4 L294.9,185.7 L293.7,183.0 L292.5,180.2 L291.2,177.5 L290.0,174.8 L288.8,172.1 L287.5,169.4 L286.3,166.6 L285.0,163.9 L283.8,161.2 L282.5,158.5 L281.3,155.7 L280.0,153.0 L278.7,150.3 L277.4,147.6 L276.1,144.9 L274.8,142.2 L273.4,139.5 L272.0,136.8 L270.5,134.2 L268.8,131.6 L267.1,129.1 L265.3,126.6 L263.6,124.1 L262.0,121.6 L260.3,119.0 L258.7,116.5 L257.0,114.0 L255.3,111.5 L253.6,108.9 L251.9,106.5 L250.2,104.0 L248.4,101.5 L246.7,99.1 L244.9,96.6 L243.1,94.2 L241.2,91.9 L239.3,89.5 L237.4,87.2 L235.5,84.9 L233.5,82.6 L231.5,80.4 L229.4,78.2 L227.4,76.0 L225.2,73.8 L223.1,71.7 L220.9,69.7 L218.7,67.6 L216.4,65.6 L214.1,63.7 L211.7,61.8 L209.3,60.0 L206.8,58.2 L204.4,56.5 L201.9,54.8 L199.4,53.1 L196.8,51.5 L194.2,49.9 L191.7,48.3 L189.0,46.8 L186.4,45.3 L183.8,43.8 L181.1,42.4 L178.5,41.0 L175.8,39.6 L173.1,38.3 L170.4,37.0 L170.2,37.4 L172.7,39.0 L175.2,40.7 L177.7,42.3 L180.2,44.0 L182.6,45.7 L185.1,47.5 L187.5,49.2 L189.9,51.0 L192.3,52.8 L194.6,54.6 L197.0,56.4 L199.3,58.3 L201.6,60.2 L203.8,62.1 L206.0,64.0 L208.2,66.0 L210.3,68.0 L212.5,70.0 L214.6,72.0 L216.6,74.1 L218.7,76.2 L220.7,78.3 L222.6,80.4 L224.5,82.6 L226.4,84.8 L228.3,87.0 L230.1,89.3 L231.9,91.6 L233.7,93.9 L235.5,96.2 L237.2,98.6 L238.8,101.0 L240.5,103.4 L242.1,105.8 L243.7,108.3 L245.2,110.8 L246.7,113.3 L248.1,115.9 L249.5,118.4 L250.9,121.0 L252.2,123.6 L253.5,126.3 L254.7,129.0 L255.8,131.7 L256.8,134.4 L257.8,137.2 L258.9,140.0 L260.0,142.7 L261.2,145.3 L262.4,148.0 L263.6,150.7 L264.8,153.4 L266.0,156.1 L267.2,158.8 L268.4,161.5 L269.5,164.2 L270.7,167.0 L271.8,169.7 L273.0,172.4 L274.1,175.2 L275.2,177.9 L276.4,180.7 L277.5,183.5 L278.6,186.2 L279.8,189.0 L280.9,191.8 L282.1,194.5 L283.2,197.3 L284.4,200.1 L285.6,202.9 L286.8,205.6 L288.0,208.4 L289.2,211.2 L290.4,213.9 L291.6,216.7 L292.9,219.5 L294.2,222.2 L295.5,225.0 L296.8,227.7 L298.2,230.4 L299.6,233.1 L301.1,235.8 L302.6,238.4 L304.2,241.1 L305.8,243.7 L307.4,246.3 L309.1,248.9 L310.9,251.4 L312.6,254.0 L314.5,256.5Z" fill="#14a5f5"/>
<path d="M375.7,317.7 L378.2,320.9 L380.8,324.0 L383.4,327.1 L386.0,330.1 L388.6,333.1 L391.4,336.1 L394.1,339.0 L396.9,341.9 L399.7,344.8 L402.6,347.6 L405.4,350.4 L408.3,353.2 L411.2,356.0 L414.0,358.8 L416.9,361.6 L419.7,364.4 L422.6,367.3 L425.4,370.1 L428.3,372.8 L431.1,375.6 L433.8,378.4 L436.6,381.3 L439.2,384.2 L441.8,387.1 L444.3,390.1 L446.8,393.1 L449.3,396.1 L451.7,399.1 L454.2,402.2 L456.6,405.3 L459.0,408.4 L461.4,411.5 L463.8,414.6 L466.2,417.8 L468.6,421.0 L471.0,424.1 L473.4,427.3 L475.8,430.5 L478.3,433.7 L480.7,436.8 L483.2,440.0 L485.7,443.2 L488.2,446.3 L490.7,449.5 L493.2,452.7 L495.7,455.9 L498.2,459.1 L500.7,462.3 L503.3,465.5 L505.9,468.7 L508.5,471.8 L511.1,474.9 L513.8,478.0 L516.6,481.1 L519.4,484.1 L522.2,487.0 L525.1,489.9 L528.1,492.7 L531.1,495.4 L534.2,498.1 L537.3,500.8 L540.5,503.4 L543.6,505.9 L546.8,508.5 L550.0,510.9 L553.3,513.3 L556.7,515.6 L560.1,517.9 L563.5,520.0 L567.1,522.0 L570.7,524.0 L574.4,525.7 L578.2,527.3 L582.0,528.7 L585.8,530.1 L589.7,531.4 L593.6,532.7 L597.5,534.0 L601.3,535.2 L605.2,536.4 L609.1,537.6 L613.0,538.7 L616.9,539.8 L620.8,540.8 L624.7,541.9 L628.6,542.9 L632.4,543.9 L636.3,544.9 L640.1,546.0 L643.9,547.0 L644.1,546.6 L640.5,544.9 L636.9,543.3 L633.2,541.7 L629.5,540.2 L625.8,538.7 L622.0,537.2 L618.2,535.8 L614.5,534.3 L610.7,532.9 L606.9,531.4 L603.2,530.0 L599.5,528.5 L595.8,526.9 L592.1,525.3 L588.6,523.6 L585.0,521.8 L581.6,519.9 L578.1,518.1 L574.8,516.2 L571.4,514.3 L568.1,512.4 L564.8,510.4 L561.6,508.3 L558.4,506.1 L555.2,503.9 L552.2,501.6 L549.1,499.1 L546.2,496.6 L543.3,494.0 L540.5,491.3 L537.7,488.5 L535.0,485.7 L532.3,482.8 L529.7,479.9 L527.0,477.0 L524.4,474.0 L521.8,471.1 L519.2,468.0 L516.7,465.0 L514.1,461.9 L511.6,458.8 L509.2,455.7 L506.7,452.5 L504.3,449.3 L501.9,446.1 L499.6,442.9 L497.3,439.6 L495.0,436.3 L492.8,433.0 L490.6,429.7 L488.4,426.4 L486.2,423.1 L483.9,419.8 L481.7,416.5 L479.5,413.2 L477.2,409.9 L474.9,406.6 L472.6,403.3 L470.3,400.0 L467.9,396.7 L465.5,393.5 L463.1,390.2 L460.6,387.0 L458.1,383.9 L455.5,380.7 L452.9,377.6 L450.2,374.5 L447.6,371.4 L444.9,368.4 L442.3,365.3 L439.7,362.2 L437.1,359.1 L434.4,356.1 L431.8,353.1 L429.1,350.1 L426.5,347.1 L423.8,344.0 L421.2,341.0 L418.6,338.0 L415.9,335.0 L413.3,332.0 L410.6,329.0 L407.9,326.1 L405.2,323.2 L402.4,320.3 L399.6,317.4 L396.8,314.6 L394.0,311.8 L391.2,309.0 L388.3,306.3Z" fill="#14a5f5"/>
<path d="M387.8,308.7 L389.5,309.8 L391.3,310.8 L392.9,312.0 L394.6,313.1 L396.2,314.3 L397.9,315.5 L399.4,316.7 L401.0,317.9 L402.6,319.2 L404.1,320.5 L405.6,321.9 L407.1,323.2 L408.6,324.6 L409.9,326.1 L411.2,327.7 L412.4,329.3 L413.7,331.0 L415.0,332.6 L416.3,334.1 L417.7,335.6 L419.2,337.0 L420.7,338.4 L422.2,339.8 L423.8,341.2 L425.4,342.6 L426.9,343.9 L428.5,345.3 L430.1,346.8 L431.7,348.2 L433.2,349.7 L434.7,351.2 L436.1,352.7 L437.5,354.3 L438.9,355.9 L440.3,357.5 L441.6,359.2 L443.0,360.8 L444.4,362.4 L445.7,364.0 L447.1,365.6 L448.5,367.3 L449.9,368.9 L451.3,370.4 L452.7,372.0 L454.2,373.6 L455.7,375.1 L457.2,376.6 L458.7,378.1 L460.3,379.6 L461.8,381.0 L463.5,382.4 L465.1,383.8 L466.8,385.1 L468.5,386.3 L470.3,387.5 L472.1,388.7 L474.0,389.7 L475.8,390.8 L477.7,391.8 L479.6,392.7 L481.6,393.6 L483.5,394.5 L485.5,395.3 L487.4,396.1 L489.4,396.8 L491.5,397.5 L493.5,398.2 L495.5,398.8 L497.5,399.5 L499.5,400.1 L501.6,400.8 L503.6,401.4 L505.6,402.0 L507.7,402.6 L509.7,403.2 L511.7,403.7 L513.8,404.3 L515.8,404.8 L517.9,405.3 L520.0,405.8 L522.0,406.3 L524.1,406.7 L526.2,407.1 L528.3,407.5 L530.4,407.8 L532.5,408.1 L534.6,408.3 L536.7,408.5 L538.8,408.6 L541.0,408.7 L541.1,408.3 L539.1,407.5 L537.1,406.8 L535.1,406.1 L533.1,405.4 L531.1,404.8 L529.1,404.2 L527.1,403.6 L525.1,403.0 L523.1,402.4 L521.1,401.7 L519.1,401.1 L517.1,400.5 L515.1,399.9 L513.1,399.2 L511.2,398.5 L509.2,397.8 L507.3,397.1 L505.4,396.4 L503.5,395.6 L501.6,394.8 L499.7,393.9 L497.9,393.0 L496.1,392.1 L494.3,391.1 L492.6,390.1 L490.8,389.0 L489.1,388.0 L487.4,387.0 L485.7,385.9 L484.0,384.9 L482.4,383.8 L480.7,382.7 L479.1,381.6 L477.5,380.4 L476.0,379.3 L474.4,378.2 L472.8,377.0 L471.3,375.8 L469.7,374.6 L468.2,373.4 L466.6,372.2 L465.1,370.9 L463.6,369.7 L462.1,368.4 L460.6,367.0 L459.0,365.7 L457.6,364.3 L456.1,362.9 L454.6,361.5 L453.1,360.1 L451.7,358.6 L450.2,357.1 L448.8,355.6 L447.3,354.1 L445.9,352.6 L444.5,351.0 L443.1,349.4 L441.8,347.8 L440.4,346.2 L439.2,344.5 L437.9,342.8 L436.7,341.0 L435.5,339.2 L434.3,337.5 L433.1,335.7 L431.9,333.9 L430.6,332.2 L429.3,330.5 L428.0,328.8 L426.6,327.2 L425.1,325.6 L423.5,324.1 L421.8,322.8 L420.1,321.5 L418.3,320.2 L416.6,318.9 L414.9,317.6 L413.2,316.3 L411.6,314.9 L409.9,313.6 L408.2,312.2 L406.5,310.9 L404.8,309.6 L403.1,308.4 L401.3,307.1 L399.5,305.9 L397.7,304.7 L395.9,303.5 L394.1,302.4 L392.2,301.3Z" fill="#dbe2fb"/>
<path d="M389.3,303.1 L390.7,303.9 L392.2,304.6 L393.7,305.4 L395.1,306.2 L396.6,307.0 L398.1,307.8 L399.5,308.6 L401.0,309.4 L402.5,310.2 L403.9,311.1 L405.4,311.9 L406.9,312.7 L408.4,313.5 L409.9,314.3 L411.3,315.1 L412.8,315.9 L414.3,316.8 L415.8,317.6 L417.3,318.4 L418.8,319.2 L420.3,320.0 L421.8,320.8 L423.3,321.6 L424.8,322.4 L426.3,323.3 L427.8,324.1 L429.3,324.9 L430.8,325.8 L432.3,326.6 L433.8,327.5 L435.3,328.3 L436.7,329.2 L438.3,330.0 L439.8,330.8 L441.3,331.6 L442.8,332.5 L444.3,333.3 L445.8,334.1 L447.3,334.9 L448.9,335.7 L450.4,336.5 L451.9,337.3 L453.5,338.0 L455.0,338.8 L456.5,339.6 L458.1,340.3 L459.6,341.1 L461.2,341.8 L462.7,342.5 L464.3,343.3 L465.9,344.0 L467.4,344.7 L469.0,345.4 L470.6,346.1 L472.2,346.8 L473.7,347.4 L475.3,348.1 L476.9,348.7 L478.5,349.4 L480.1,350.0 L481.8,350.5 L483.4,351.0 L485.1,351.5 L486.8,351.9 L488.4,352.3 L490.1,352.7 L491.8,353.0 L493.5,353.4 L495.2,353.7 L496.9,354.0 L498.6,354.3 L500.3,354.6 L502.0,354.9 L503.7,355.2 L505.3,355.5 L507.0,355.8 L508.7,356.1 L510.4,356.4 L512.1,356.6 L513.8,356.9 L515.5,357.1 L517.2,357.3 L518.9,357.4 L520.6,357.5 L522.4,357.6 L524.1,357.7 L525.8,357.8 L527.5,357.8 L529.2,357.8 L531.0,357.7 L531.0,357.3 L529.3,356.9 L527.7,356.5 L526.0,356.1 L524.3,355.7 L522.7,355.3 L521.1,354.9 L519.4,354.5 L517.8,354.0 L516.2,353.6 L514.6,353.2 L513.0,352.7 L511.4,352.2 L509.8,351.7 L508.2,351.2 L506.6,350.7 L505.0,350.1 L503.5,349.6 L501.9,349.0 L500.4,348.4 L498.8,347.7 L497.3,347.0 L495.8,346.3 L494.3,345.6 L492.8,344.9 L491.3,344.1 L489.8,343.4 L488.3,342.7 L486.9,341.9 L485.4,341.2 L483.9,340.6 L482.3,339.9 L480.8,339.3 L479.3,338.6 L477.8,338.0 L476.3,337.3 L474.7,336.6 L473.2,336.0 L471.7,335.3 L470.2,334.6 L468.7,333.9 L467.2,333.1 L465.7,332.4 L464.2,331.7 L462.7,330.9 L461.2,330.2 L459.7,329.4 L458.2,328.7 L456.7,327.9 L455.2,327.2 L453.7,326.4 L452.2,325.6 L450.7,324.8 L449.2,324.0 L447.8,323.2 L446.3,322.4 L444.8,321.6 L443.3,320.8 L441.8,320.0 L440.3,319.2 L438.9,318.3 L437.4,317.5 L435.9,316.7 L434.4,315.9 L432.9,315.1 L431.4,314.2 L430.0,313.4 L428.5,312.5 L427.0,311.6 L425.6,310.8 L424.1,309.9 L422.7,309.0 L421.2,308.1 L419.8,307.2 L418.3,306.4 L416.9,305.5 L415.4,304.6 L413.9,303.7 L412.5,302.9 L411.0,302.0 L409.5,301.2 L408.0,300.3 L406.6,299.5 L405.1,298.7 L403.6,297.8 L402.1,297.0 L400.7,296.2 L399.2,295.3 L397.7,294.5 L396.2,293.7 L394.7,292.9Z" fill="#14a5f5"/>
<path d="M389.9,293.4 L391.0,293.9 L392.2,294.4 L393.3,294.8 L394.5,295.3 L395.7,295.8 L396.9,296.2 L398.0,296.7 L399.2,297.1 L400.4,297.5 L401.6,297.9 L402.8,298.3 L404.0,298.7 L405.1,299.1 L406.3,299.4 L407.5,299.8 L408.7,300.1 L409.9,300.5 L411.1,300.8 L412.3,301.1 L413.5,301.4 L414.8,301.7 L416.0,302.0 L417.2,302.2 L418.4,302.5 L419.6,302.8 L420.8,303.0 L422.0,303.2 L423.3,303.5 L424.5,303.7 L425.7,303.9 L426.9,304.1 L428.1,304.3 L429.4,304.5 L430.6,304.7 L431.8,304.8 L433.0,305.0 L434.2,305.2 L435.5,305.4 L436.7,305.5 L437.9,305.7 L439.1,305.8 L440.4,306.0 L441.6,306.1 L442.8,306.3 L444.0,306.4 L445.3,306.5 L446.5,306.6 L447.7,306.7 L448.9,306.8 L450.1,306.9 L451.4,307.0 L452.6,307.1 L453.8,307.2 L455.0,307.3 L456.3,307.4 L457.5,307.5 L458.7,307.6 L459.9,307.7 L461.1,307.8 L462.4,307.9 L463.6,308.1 L464.8,308.2 L466.0,308.3 L467.2,308.4 L468.4,308.5 L469.6,308.6 L470.9,308.8 L472.1,308.9 L473.3,309.0 L474.5,309.1 L475.7,309.2 L476.9,309.3 L478.1,309.5 L479.3,309.6 L480.5,309.7 L481.8,309.8 L483.0,309.9 L484.2,310.0 L485.4,310.1 L486.6,310.3 L487.8,310.4 L489.0,310.5 L490.2,310.6 L491.4,310.7 L492.7,310.7 L493.9,310.8 L495.1,310.9 L496.3,310.9 L497.5,311.0 L498.8,311.0 L498.8,310.6 L497.7,310.2 L496.5,309.7 L495.4,309.3 L494.2,309.0 L493.1,308.6 L491.9,308.2 L490.7,307.9 L489.5,307.5 L488.4,307.2 L487.2,306.9 L486.0,306.6 L484.8,306.3 L483.6,306.0 L482.4,305.7 L481.2,305.4 L480.1,305.2 L478.9,304.9 L477.7,304.6 L476.5,304.4 L475.3,304.1 L474.1,303.8 L472.9,303.6 L471.7,303.3 L470.5,303.1 L469.3,302.8 L468.1,302.6 L466.9,302.3 L465.7,302.0 L464.6,301.8 L463.4,301.5 L462.2,301.3 L461.0,301.0 L459.8,300.7 L458.6,300.4 L457.4,300.2 L456.2,299.9 L455.0,299.6 L453.9,299.3 L452.7,299.0 L451.5,298.7 L450.3,298.4 L449.1,298.1 L448.0,297.8 L446.8,297.5 L445.6,297.2 L444.4,296.9 L443.3,296.7 L442.1,296.4 L440.9,296.1 L439.7,295.8 L438.6,295.5 L437.4,295.2 L436.2,295.0 L435.1,294.7 L433.9,294.4 L432.7,294.1 L431.6,293.8 L430.4,293.5 L429.3,293.2 L428.1,292.8 L427.0,292.5 L425.8,292.2 L424.7,291.9 L423.5,291.6 L422.4,291.3 L421.2,290.9 L420.1,290.6 L418.9,290.3 L417.8,290.0 L416.7,289.7 L415.5,289.3 L414.4,289.0 L413.2,288.7 L412.1,288.3 L411.0,288.0 L409.8,287.7 L408.7,287.4 L407.6,287.0 L406.5,286.7 L405.3,286.3 L404.2,286.0 L403.1,285.6 L402.0,285.3 L400.8,284.9 L399.7,284.5 L398.6,284.2 L397.5,283.8 L396.4,283.4 L395.3,283.0 L394.1,282.7Z" fill="#0b3360"/>
<path d="M525,273.8 L388,271.5 L388,286 C420,284 470,279.5 525,274.3Z" fill="#0a4570"/>
<path d="M393.3,274.1 L395.5,273.7 L397.7,273.2 L399.9,272.7 L402.1,272.3 L404.3,271.7 L406.5,271.2 L408.6,270.6 L410.8,270.1 L413.0,269.5 L415.1,268.9 L417.3,268.2 L419.4,267.6 L421.5,267.0 L423.7,266.4 L425.8,265.7 L428.0,265.0 L430.1,264.3 L432.2,263.6 L434.3,262.9 L436.4,262.1 L438.4,261.3 L440.5,260.5 L442.5,259.6 L444.6,258.7 L446.5,257.7 L448.5,256.7 L450.5,255.7 L452.4,254.6 L454.3,253.5 L456.2,252.3 L458.1,251.2 L459.9,250.0 L461.8,248.8 L463.7,247.7 L465.6,246.5 L467.4,245.4 L469.3,244.3 L471.2,243.2 L473.1,242.2 L475.0,241.1 L476.9,240.1 L478.9,239.1 L480.8,238.1 L482.7,237.1 L484.6,236.1 L486.5,235.1 L488.5,234.2 L490.4,233.2 L492.3,232.3 L494.2,231.4 L496.1,230.4 L498.1,229.5 L500.0,228.6 L501.9,227.7 L503.8,226.8 L505.8,225.9 L507.7,225.0 L509.6,224.2 L511.6,223.3 L513.5,222.5 L515.5,221.6 L517.4,220.8 L519.4,220.0 L521.3,219.3 L523.3,218.5 L525.3,217.8 L527.2,217.1 L529.2,216.4 L531.2,215.7 L533.2,215.1 L535.3,214.4 L537.3,213.8 L539.3,213.2 L541.4,212.7 L543.4,212.2 L545.5,211.7 L547.6,211.3 L549.7,210.9 L551.8,210.5 L554.0,210.2 L556.1,209.9 L558.2,209.7 L560.4,209.5 L562.6,209.3 L564.8,209.2 L567.0,209.1 L569.2,209.1 L571.5,209.1 L573.7,209.1 L576.0,209.2 L576.0,208.8 L573.8,208.5 L571.5,208.3 L569.3,208.2 L567.0,208.0 L564.8,207.9 L562.6,207.9 L560.4,207.8 L558.1,207.8 L555.9,207.9 L553.7,207.9 L551.6,208.0 L549.4,208.2 L547.2,208.3 L545.0,208.5 L542.9,208.7 L540.7,208.9 L538.5,209.2 L536.4,209.5 L534.2,209.8 L532.1,210.1 L529.9,210.5 L527.8,210.9 L525.6,211.3 L523.5,211.7 L521.4,212.2 L519.3,212.7 L517.2,213.3 L515.0,213.8 L512.9,214.4 L510.8,215.0 L508.7,215.6 L506.7,216.3 L504.6,216.9 L502.5,217.6 L500.4,218.3 L498.4,219.0 L496.3,219.8 L494.3,220.6 L492.2,221.3 L490.2,222.1 L488.1,223.0 L486.1,223.8 L484.1,224.6 L482.1,225.5 L480.1,226.3 L478.0,227.2 L476.0,228.0 L474.0,228.9 L472.0,229.8 L470.0,230.6 L468.0,231.5 L466.0,232.3 L463.9,233.1 L461.9,233.9 L459.8,234.7 L457.8,235.4 L455.7,236.2 L453.6,236.9 L451.6,237.6 L449.5,238.3 L447.5,239.1 L445.5,239.8 L443.4,240.6 L441.4,241.3 L439.4,242.2 L437.5,243.0 L435.5,243.9 L433.6,244.7 L431.6,245.7 L429.7,246.6 L427.8,247.5 L425.9,248.4 L424.0,249.4 L422.1,250.3 L420.2,251.2 L418.3,252.1 L416.4,253.0 L414.4,253.8 L412.5,254.7 L410.6,255.5 L408.6,256.2 L406.6,257.0 L404.7,257.7 L402.7,258.4 L400.7,259.0 L398.7,259.6 L396.7,260.2 L394.7,260.8 L392.7,261.4 L390.7,261.9Z" fill="#0a2540"/>
<path d="M396.1,251.3 L397.6,250.3 L399.0,249.4 L400.4,248.4 L401.8,247.4 L403.2,246.4 L404.5,245.4 L405.9,244.4 L407.2,243.3 L408.6,242.3 L409.9,241.2 L411.2,240.1 L412.6,239.0 L413.9,237.9 L415.1,236.8 L416.4,235.7 L417.7,234.5 L418.9,233.4 L420.2,232.2 L421.4,231.1 L422.6,229.9 L423.9,228.7 L425.1,227.5 L426.3,226.3 L427.5,225.2 L428.7,224.0 L429.8,222.8 L431.0,221.6 L432.2,220.4 L433.4,219.2 L434.6,218.0 L435.8,216.8 L436.9,215.6 L438.1,214.4 L439.3,213.3 L440.5,212.1 L441.7,211.0 L442.9,209.8 L444.1,208.7 L445.3,207.5 L446.5,206.4 L447.7,205.3 L448.9,204.2 L450.2,203.1 L451.4,202.0 L452.6,200.9 L453.8,199.9 L455.1,198.8 L456.3,197.7 L457.6,196.7 L458.8,195.7 L460.1,194.6 L461.3,193.6 L462.6,192.6 L463.9,191.7 L465.2,190.7 L466.5,189.7 L467.8,188.8 L469.2,187.9 L470.5,187.0 L471.8,186.1 L473.2,185.2 L474.6,184.4 L476.0,183.5 L477.4,182.7 L478.8,181.9 L480.2,181.1 L481.6,180.4 L483.1,179.6 L484.6,178.9 L486.0,178.1 L487.5,177.4 L489.0,176.7 L490.5,176.0 L492.0,175.3 L493.5,174.6 L495.0,173.9 L496.6,173.2 L498.1,172.5 L499.6,171.8 L501.2,171.2 L502.7,170.5 L504.2,169.8 L505.8,169.1 L507.3,168.4 L508.9,167.7 L510.4,167.0 L512.0,166.3 L513.5,165.6 L515.0,164.9 L516.6,164.2 L516.4,163.8 L514.8,164.2 L513.2,164.7 L511.5,165.1 L509.9,165.6 L508.3,166.0 L506.6,166.5 L505.0,166.9 L503.4,167.4 L501.7,167.8 L500.1,168.3 L498.5,168.8 L496.9,169.2 L495.2,169.7 L493.6,170.2 L492.0,170.7 L490.4,171.2 L488.8,171.8 L487.2,172.3 L485.6,172.8 L484.0,173.4 L482.4,174.0 L480.9,174.6 L479.3,175.2 L477.7,175.8 L476.1,176.4 L474.6,177.1 L473.0,177.7 L471.5,178.4 L469.9,179.1 L468.4,179.8 L466.8,180.6 L465.3,181.3 L463.8,182.1 L462.3,182.9 L460.8,183.7 L459.3,184.5 L457.8,185.3 L456.3,186.2 L454.8,187.0 L453.4,187.9 L451.9,188.8 L450.5,189.7 L449.0,190.6 L447.6,191.6 L446.2,192.5 L444.7,193.4 L443.3,194.4 L441.9,195.4 L440.5,196.4 L439.1,197.4 L437.7,198.4 L436.4,199.4 L435.0,200.4 L433.6,201.5 L432.3,202.5 L430.9,203.5 L429.5,204.6 L428.2,205.6 L426.8,206.6 L425.5,207.7 L424.1,208.7 L422.8,209.8 L421.4,210.9 L420.1,211.9 L418.8,213.0 L417.5,214.1 L416.2,215.1 L414.8,216.2 L413.5,217.3 L412.3,218.4 L411.0,219.5 L409.7,220.6 L408.4,221.7 L407.2,222.8 L405.9,223.9 L404.7,225.0 L403.5,226.2 L402.2,227.3 L401.0,228.4 L399.8,229.5 L398.6,230.6 L397.4,231.8 L396.2,232.9 L395.0,234.0 L393.8,235.1 L392.6,236.3 L391.4,237.4 L390.2,238.5 L389.1,239.6 L387.9,240.7Z" fill="#6a2a9a"/>
<path d="M380.3,254.0 L381.6,252.5 L382.9,250.9 L384.2,249.3 L385.4,247.7 L386.6,246.1 L387.8,244.5 L389.0,242.8 L390.2,241.1 L391.4,239.4 L392.5,237.7 L393.6,236.0 L394.7,234.2 L395.7,232.5 L396.8,230.7 L397.8,228.9 L398.8,227.1 L399.8,225.3 L400.7,223.5 L401.7,221.6 L402.7,219.8 L403.6,217.9 L404.6,216.1 L405.5,214.3 L406.5,212.4 L407.4,210.6 L408.4,208.8 L409.3,206.9 L410.3,205.1 L411.3,203.3 L412.3,201.5 L413.3,199.7 L414.4,197.9 L415.4,196.1 L416.4,194.4 L417.4,192.6 L418.5,190.8 L419.5,189.1 L420.6,187.3 L421.7,185.6 L422.7,183.9 L423.8,182.1 L424.9,180.4 L426.0,178.7 L427.1,177.1 L428.3,175.4 L429.4,173.7 L430.6,172.1 L431.7,170.5 L432.9,168.9 L434.1,167.3 L435.4,165.7 L436.6,164.2 L437.8,162.6 L439.1,161.1 L440.4,159.6 L441.7,158.2 L443.0,156.7 L444.3,155.2 L445.6,153.8 L447.0,152.4 L448.3,151.0 L449.7,149.7 L451.1,148.3 L452.5,147.0 L453.9,145.6 L455.3,144.4 L456.8,143.1 L458.2,141.8 L459.7,140.5 L461.1,139.2 L462.6,138.0 L464.1,136.8 L465.7,135.6 L467.2,134.4 L468.8,133.3 L470.5,132.2 L472.1,131.2 L473.8,130.1 L475.5,129.1 L477.2,128.1 L479.0,127.1 L480.8,126.2 L482.6,125.3 L484.4,124.4 L486.3,123.5 L488.2,122.6 L490.1,121.8 L492.0,121.0 L494.0,120.3 L496.1,119.5 L495.9,119.1 L493.8,119.4 L491.7,119.8 L489.6,120.2 L487.5,120.7 L485.5,121.2 L483.4,121.8 L481.4,122.4 L479.4,123.1 L477.5,123.8 L475.5,124.5 L473.6,125.3 L471.7,126.1 L469.8,126.9 L468.0,127.8 L466.1,128.8 L464.3,129.7 L462.5,130.7 L460.7,131.7 L458.9,132.7 L457.2,133.8 L455.4,134.9 L453.7,136.0 L452.1,137.2 L450.4,138.4 L448.8,139.6 L447.2,140.9 L445.6,142.2 L444.0,143.6 L442.5,144.9 L441.0,146.3 L439.5,147.7 L438.0,149.2 L436.6,150.6 L435.1,152.1 L433.7,153.6 L432.3,155.1 L430.9,156.6 L429.5,158.2 L428.1,159.7 L426.8,161.3 L425.4,162.9 L424.1,164.5 L422.7,166.1 L421.4,167.7 L420.1,169.3 L418.8,171.0 L417.5,172.6 L416.2,174.3 L415.0,175.9 L413.7,177.6 L412.4,179.3 L411.2,181.0 L409.9,182.7 L408.7,184.4 L407.5,186.1 L406.2,187.8 L405.0,189.5 L403.8,191.2 L402.6,193.0 L401.4,194.7 L400.2,196.4 L399.0,198.1 L397.8,199.9 L396.6,201.6 L395.4,203.3 L394.2,205.0 L393.0,206.7 L391.8,208.4 L390.6,210.1 L389.5,211.8 L388.3,213.5 L387.1,215.2 L386.0,216.9 L384.8,218.6 L383.7,220.3 L382.6,222.0 L381.5,223.7 L380.4,225.5 L379.4,227.2 L378.3,228.9 L377.3,230.6 L376.3,232.3 L375.3,234.0 L374.3,235.7 L373.4,237.5 L372.4,239.2 L371.5,240.9 L370.5,242.6 L369.6,244.3 L368.7,246.0Z" fill="#0f78c0"/>
<path d="M361.0,254.0 L363.2,251.6 L365.4,249.1 L367.5,246.6 L369.6,244.0 L371.7,241.5 L373.7,238.8 L375.6,236.1 L377.4,233.4 L379.2,230.6 L380.9,227.8 L382.6,225.0 L384.3,222.1 L386.0,219.3 L387.7,216.4 L389.3,213.6 L390.9,210.7 L392.5,207.8 L394.1,204.9 L395.6,201.9 L397.1,199.0 L398.6,196.0 L400.0,193.1 L401.5,190.1 L402.9,187.1 L404.3,184.1 L405.6,181.1 L407.0,178.1 L408.4,175.1 L409.8,172.1 L411.1,169.1 L412.5,166.1 L413.9,163.1 L415.3,160.1 L416.7,157.1 L418.1,154.1 L419.4,151.2 L420.8,148.2 L422.2,145.2 L423.6,142.3 L425.0,139.3 L426.4,136.4 L427.8,133.4 L429.2,130.5 L430.6,127.5 L432.0,124.6 L433.5,121.7 L434.9,118.9 L436.4,116.0 L437.9,113.1 L439.4,110.3 L441.0,107.5 L442.6,104.7 L444.2,102.0 L445.8,99.2 L447.5,96.5 L449.2,93.8 L450.9,91.1 L452.6,88.4 L454.3,85.8 L456.1,83.2 L457.8,80.5 L459.6,77.9 L461.5,75.4 L463.4,72.9 L465.3,70.4 L467.3,68.0 L469.4,65.6 L471.5,63.3 L473.7,61.0 L475.9,58.8 L478.1,56.6 L480.4,54.5 L482.8,52.4 L485.2,50.4 L487.6,48.4 L490.1,46.4 L492.6,44.5 L495.2,42.7 L497.8,40.8 L500.5,39.1 L503.2,37.3 L506.0,35.7 L508.8,34.0 L511.7,32.5 L514.7,31.0 L517.7,29.5 L520.8,28.1 L523.9,26.7 L527.1,25.4 L530.4,24.2 L530.2,23.8 L526.9,24.8 L523.6,25.9 L520.3,27.0 L517.1,28.2 L514.0,29.5 L510.9,30.9 L507.9,32.3 L505.0,33.8 L502.0,35.3 L499.2,36.9 L496.4,38.6 L493.6,40.3 L490.9,42.1 L488.3,44.0 L485.7,45.9 L483.1,47.9 L480.6,49.9 L478.2,52.0 L475.8,54.1 L473.4,56.3 L471.1,58.5 L468.8,60.7 L466.5,63.0 L464.3,65.3 L462.1,67.6 L459.9,69.9 L457.7,72.3 L455.5,74.7 L453.4,77.1 L451.3,79.6 L449.2,82.0 L447.2,84.6 L445.2,87.2 L443.3,89.8 L441.4,92.4 L439.5,95.1 L437.7,97.8 L435.8,100.6 L434.0,103.3 L432.3,106.1 L430.5,108.8 L428.8,111.6 L427.0,114.4 L425.3,117.2 L423.6,120.0 L421.9,122.9 L420.2,125.7 L418.6,128.6 L416.9,131.4 L415.3,134.3 L413.7,137.2 L412.1,140.1 L410.5,143.0 L409.0,145.9 L407.4,148.8 L405.9,151.7 L404.3,154.7 L402.8,157.6 L401.2,160.5 L399.7,163.4 L398.2,166.3 L396.6,169.2 L395.1,172.1 L393.5,175.0 L391.9,177.8 L390.3,180.7 L388.8,183.6 L387.2,186.4 L385.6,189.2 L384.0,192.1 L382.5,194.9 L380.9,197.7 L379.4,200.5 L377.8,203.3 L376.2,206.1 L374.6,208.9 L373.0,211.6 L371.4,214.4 L369.7,217.1 L368.0,219.7 L366.3,222.4 L364.6,225.0 L362.9,227.7 L361.2,230.3 L359.5,232.9 L357.9,235.6 L356.2,238.2 L354.5,240.8 L352.8,243.4 L351.0,246.0Z" fill="#cbbcf0"/>
<!-- center box -->
<rect x="282.7" y="246" width="109.6" height="70.8" fill="url(#boxg)"/>
<!-- rocks -->
<polygon points="274,240 294,236 298,240 302,249 304,262 303.5,270 284,270 272,262 271.5,252" fill="#96acba"/>
<polygon points="294,236 298,240 302,249 304,262 303.5,268.5 299,268.5 296,250 290,240" fill="#a6bac6"/>
<polygon points="272,262 284,270 303.5,270 303,265 285,264 273,257" fill="#8aa1b1"/>
<g stroke-linecap="round" fill="none">
<path d="M401.9,265.7 L385,269" stroke="#a3b7c5" stroke-width="9.4"/>
<path d="M395.4,246.4 L379.5,263.5" stroke="#9fb4c2" stroke-width="13.6"/>
<path d="M375.7,243.2 L369.5,259.5" stroke="#a9bdca" stroke-width="12.6"/>
</g>
<circle cx="401.9" cy="265.7" r="4.3" fill="#bccdd8"/>
<circle cx="395.4" cy="246.4" r="6.3" fill="#bacbd7"/>
<circle cx="375.7" cy="243.2" r="5.9" fill="#c3d3de"/>
<polygon points="370,316.8 386,297.5 393.6,312" fill="#b3c7d5"/>
<polygon points="370,316.6 393.6,312 394,319.5 373.5,323.5" fill="#8d9ba6"/>
<!-- center text -->
<g font-size="17.5" fill="#1a222c" stroke="#1a222c" stroke-width="0.25" text-anchor="middle">
<text x="337" y="261.5">Internet</text>
<text x="338" y="283">of</text>
<text x="338" y="304.5">Things</text>
</g>
<!-- arrowheads -->
<polygon points="577.3,207.5 574.2,215 580.6,215" fill="#3fa9e6"/>
<polygon points="535.5,355 529,356.2 532.3,361.3" fill="#2e93c8"/>
<polygon points="543.4,408.6 541,402.8 546.3,403.3" fill="#2e93c8"/>
<circle cx="40.6" cy="455.6" r="2.3" fill="#1c5a90"/>
<polygon points="44,457.5 50,460 46,463.5" fill="#2f8fc4"/>
<!-- labels -->
<g class="lb">
<text font-size="14.30" textLength="55.6"><textPath href="#lp_robotics" startOffset="6">Robotics</textPath></text>
<text font-size="13.68" textLength="50.2"><textPath href="#lp_sensors" startOffset="6">Sensors</textPath></text>
<text font-size="14.32" textLength="90.8"><textPath href="#lp_manuf" startOffset="6">Manufacturing</textPath></text>
<text font-size="13.96" textLength="80.7"><textPath href="#lp_smart" startOffset="6">Smart Planet</textPath></text>
<text font-size="14.62" textLength="93.7"><textPath href="#lp_transp" startOffset="6">Transportation</textPath></text>
<text font-size="14.08" textLength="108.8"><textPath href="#lp_crime" startOffset="6">Crime Prevention</textPath></text>
<text font-size="13.96" textLength="183.4"><textPath href="#lp_energy" startOffset="6">Energy &amp; Water Management</textPath></text>
<text font-size="14.25" textLength="81.6"><textPath href="#lp_policy" startOffset="6">Policy &amp; Law</textPath></text>
<text font-size="14.00" textLength="49.8"><textPath href="#lp_devices" startOffset="6">Devices</textPath></text>
<text font-size="14.10" textLength="68.2"><textPath href="#lp_health" startOffset="6">Healthcare</textPath></text>
<text font-size="14.43" textLength="127.6"><textPath href="#lp_building" startOffset="6">Building Automation</textPath></text>
<text font-size="13.99" textLength="50.5"><textPath href="#lp_security" startOffset="6">Security</textPath></text>
<text font-size="13.99" textLength="82.4"><textPath href="#lp_sustain" startOffset="6">Sustainability</textPath></text>
<text font-size="13.68" textLength="90.2"><textPath href="#lp_future" startOffset="6">Future of Work</textPath></text>
<text font-size="14.32" textLength="191.8"><textPath href="#lp_data" startOffset="6">Data Management &amp; Analytics</textPath></text>
<text x="192" y="267.8" textLength="46">Military</text>
<text x="440" y="269" textLength="75">Food Safety</text>
<text x="29.3" y="245.5" textLength="67">Machine to</text>
<text x="29.3" y="262" textLength="52.3">Machine</text>
<text x="241" y="510.5" font-size="14.9" textLength="133.5">Machine to Machine</text>
</g>
<text x="364" y="549.5" font-size="12.8" fill="#4c4c4c" textLength="182.5">Source:  Constellation Research</text>
</g>
</svg>
</body></html>
